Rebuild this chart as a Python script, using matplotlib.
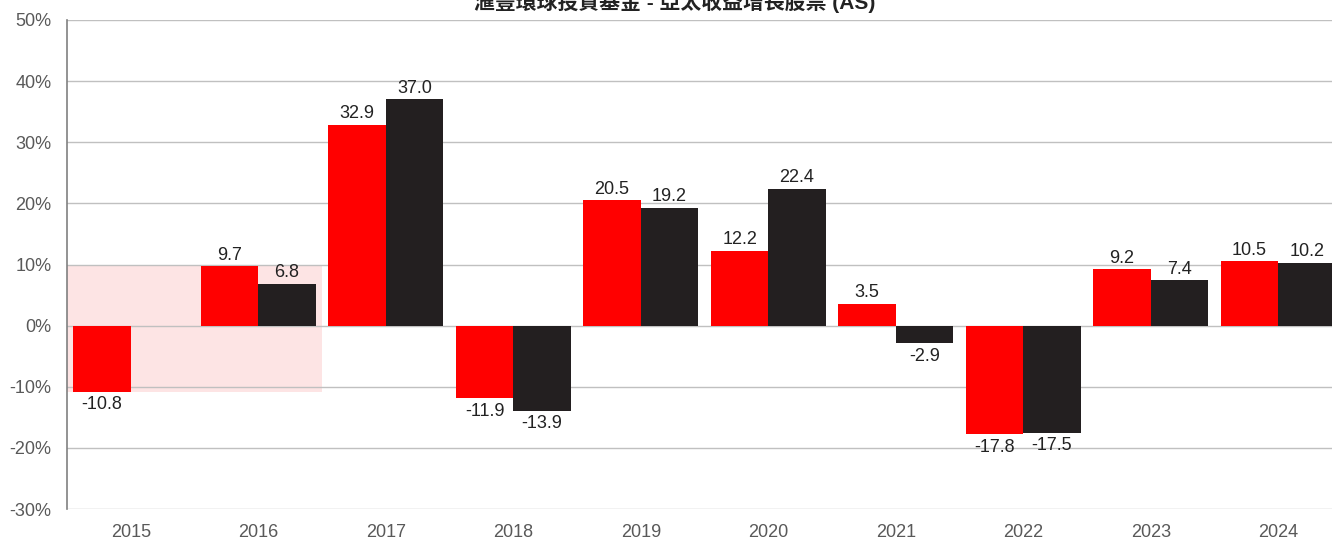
import numpy as np
import matplotlib.pyplot as plt

plt.rcParams['font.family'] = ['Liberation Sans', 'Noto Sans CJK TC', 'DejaVu Sans']

years = ['2015', '2016', '2017', '2018', '2019', '2020', '2021', '2022', '2023', '2024']
fund = [-10.8, 9.7, 32.9, -11.9, 20.5, 12.2, 3.5, -17.8, 9.2, 10.5]
index = [np.nan, 6.8, 37.0, -13.9, 19.2, 22.4, -2.9, -17.5, 7.4, 10.2]
yticks = [-30, -20, -10, 0, 10, 20, 30, 40, 50]

# highlighted band over the first two years
band_x = (-0.5, 1.5)
band_y = (-10.8, 9.7)

fig = plt.figure(figsize=(13.32, 5.39), dpi=100)
ax = fig.add_axes([67 / 1332, 30 / 539, 1275 / 1332, 489 / 539])

ax.add_patch(plt.Rectangle((band_x[0], band_y[0]), band_x[1] - band_x[0], band_y[1] - band_y[0],
                           facecolor='#fde4e4', edgecolor='none', zorder=0))

x = np.arange(len(years))
w = 0.45
b1 = ax.bar(x - w / 2, fund, w, color='#ff0000', zorder=2)
b2 = ax.bar(x + w / 2, index, w, color='#231f20', zorder=2)

for bars, vals in ((b1, fund), (b2, index)):
    for rect, v in zip(bars, vals):
        if np.isnan(v):
            continue
        cx = rect.get_x() + rect.get_width() / 2
        if v >= 0:
            ax.annotate(f'{v:.1f}', (cx, v), xytext=(0, 2), textcoords='offset points',
                        ha='center', va='bottom', fontsize=13, color='#222222')
        else:
            ax.annotate(f'{v:.1f}', (cx, v), xytext=(0, -3), textcoords='offset points',
                        ha='center', va='top', fontsize=13, color='#222222')

ax.set_xlim(-0.5, 9.5)
ax.set_ylim(-30, 50)
ax.set_yticks(yticks)
ax.set_yticklabels([f'{t}%' for t in yticks])
ax.set_xticks(x)
ax.set_xticklabels(years)
ax.tick_params(axis='both', length=0, labelsize=13, labelcolor='#595959')
ax.tick_params(axis='y', pad=11)
ax.tick_params(axis='x', pad=11)
ax.yaxis.grid(True, color='#c0c0c0', linewidth=1, zorder=1)
ax.set_axisbelow(True)
for s in ('top', 'right', 'bottom'):
    ax.spines[s].set_visible(False)
ax.spines['left'].set_color('#808080')
ax.spines['left'].set_linewidth(1.2)

fig.text(675 / 1332, 1 - 2 / 539, '滙豐環球投資基金 - 亞太收益增長股票 (AS)', ha='center', va='center',
         fontsize=15, fontweight='bold', color='#222222',
         family=['Liberation Sans', 'Noto Sans CJK TC'])

fig.savefig('out.png', dpi=100)
